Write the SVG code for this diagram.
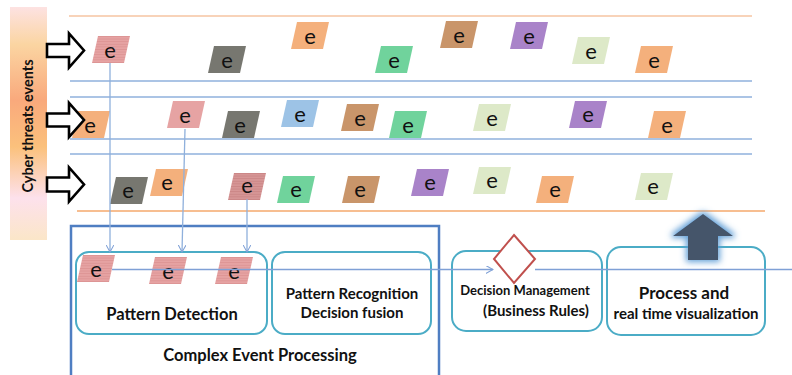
<svg xmlns="http://www.w3.org/2000/svg" width="792" height="375" viewBox="0 0 792 375">
  <style>
    .lane-o { stroke: #f6c4a2; stroke-width: 1.6; }
    .lane-o2 { stroke: #f4a96c; stroke-width: 1.4; }
    .lane-b { stroke: #8fb0dc; stroke-width: 1.6; }
    .ev-t { font-family: Lato, "Open Sans", "Liberation Sans", sans-serif; font-size: 22px; fill: #111; text-anchor: middle; }
    .lbl { font-family: Lato, "Open Sans", "Liberation Sans", sans-serif; font-weight: bold; fill: #111; text-anchor: middle; }
    .stage { fill: none; stroke: #4bacc6; stroke-width: 2; }
    .conn { stroke: #8fb0dc; stroke-width: 1.3; fill: none; }
    .blk { fill: #fff; stroke: #000; stroke-width: 2.6; stroke-linejoin: miter; }
  </style>
  <defs>
    <path id="ev" d="M6,0 H38 L32,27 H0 Z"/>
    <pattern id="stripe" width="4" height="2.6" patternUnits="userSpaceOnUse">
      <rect width="4" height="2.6" fill="#e6a3a3"/>
      <line x1="0" y1="0.5" x2="4" y2="0.5" stroke="#d78e8e" stroke-width="0.7"/>
    </pattern>
    <pattern id="stripe-dk" width="4" height="2.6" patternUnits="userSpaceOnUse">
      <rect width="4" height="2.6" fill="#d69696"/>
      <line x1="0" y1="0.5" x2="4" y2="0.5" stroke="#c47f7f" stroke-width="0.7"/>
    </pattern>
    <linearGradient id="barGrad" x1="0" y1="0" x2="0" y2="1">
      <stop offset="0" stop-color="#fde2e2"/>
      <stop offset="0.16" stop-color="#fbd5a2"/>
      <stop offset="0.4" stop-color="#f9a97c"/>
      <stop offset="0.6" stop-color="#fbc17c"/>
      <stop offset="0.82" stop-color="#fde1ec"/>
      <stop offset="1" stop-color="#fbe6c8"/>
    </linearGradient>
    <marker id="vee" viewBox="0 0 10 10" refX="9" refY="5" markerWidth="8" markerHeight="8" markerUnits="userSpaceOnUse" orient="auto">
      <path d="M0,0 L9,5 L0,10" fill="none" stroke="#7fa0d6" stroke-width="1.3"/>
    </marker>
    <filter id="glow" x="-60%" y="-60%" width="220%" height="220%">
      <feMorphology in="SourceAlpha" operator="dilate" radius="2" result="d"/>
      <feGaussianBlur in="d" stdDeviation="3" result="b"/>
      <feFlood flood-color="#5b9bd5" flood-opacity="0.95"/>
      <feComposite in2="b" operator="in" result="g"/>
      <feMerge><feMergeNode in="g"/><feMergeNode in="SourceGraphic"/></feMerge>
    </filter>
  </defs>

  <!-- side label bar -->
  <g id="source-bar">
    <rect x="10" y="7" width="37" height="233" fill="url(#barGrad)"/>
    <text class="lbl" font-size="14.5" transform="translate(33,126) rotate(-90)">Cyber threats events</text>
  </g>

  <!-- lane separators -->
  <g id="lanes">
    <line class="lane-o" x1="69" y1="16" x2="752" y2="16"/>
    <line class="lane-b" x1="70" y1="81" x2="752" y2="81"/>
    <line class="lane-b" x1="70" y1="97" x2="752" y2="97"/>
    <line class="lane-b" x1="70" y1="139" x2="752" y2="139"/>
    <line class="lane-b" x1="70" y1="154" x2="752" y2="154"/>
    <line class="lane-o2" x1="77" y1="211" x2="765" y2="211"/>
  </g>

  <!-- stream 1 events -->
  <g id="s1-e1" transform="translate(92,36)"><use href="#ev" fill="url(#stripe)"/><text class="ev-t" x="18" y="21.5">e</text></g>
  <g id="s1-e2" transform="translate(208,46)"><use href="#ev" fill="#777770"/><text class="ev-t" x="19" y="21.5">e</text></g>
  <g id="s1-e3" transform="translate(291,22)"><use href="#ev" fill="#f4b07c"/><text class="ev-t" x="19" y="21.5">e</text></g>
  <g id="s1-e4" transform="translate(375,46)"><use href="#ev" fill="#70d39c"/><text class="ev-t" x="19" y="21.5">e</text></g>
  <g id="s1-e5" transform="translate(440,21)"><use href="#ev" fill="#c9956a"/><text class="ev-t" x="19" y="21.5">e</text></g>
  <g id="s1-e6" transform="translate(510,22)"><use href="#ev" fill="#a983c9"/><text class="ev-t" x="19" y="21.5">e</text></g>
  <g id="s1-e7" transform="translate(572,37)"><use href="#ev" fill="#dde9c8"/><text class="ev-t" x="19" y="21.5">e</text></g>
  <g id="s1-e8" transform="translate(635,46)"><use href="#ev" fill="#f4b07c"/><text class="ev-t" x="19" y="21.5">e</text></g>

  <!-- stream 2 events -->
  <g id="s2-e1" transform="translate(72,111)"><use href="#ev" fill="#f4b07c"/><text class="ev-t" x="18" y="21.5">e</text></g>
  <g id="s2-e2" transform="translate(167,101)"><use href="#ev" fill="#e6a3a3"/><text class="ev-t" x="18" y="21.5">e</text></g>
  <g id="s2-e3" transform="translate(222,111)"><use href="#ev" fill="#777770"/><text class="ev-t" x="18" y="21.5">e</text></g>
  <g id="s2-e4" transform="translate(281,100)"><use href="#ev" fill="#9dc3e6"/><text class="ev-t" x="19" y="21.5">e</text></g>
  <g id="s2-e5" transform="translate(341,104)"><use href="#ev" fill="#c9956a"/><text class="ev-t" x="19" y="21.5">e</text></g>
  <g id="s2-e6" transform="translate(389,111)"><use href="#ev" fill="#70d39c"/><text class="ev-t" x="19" y="21.5">e</text></g>
  <g id="s2-e7" transform="translate(473,104)"><use href="#ev" fill="#dde9c8"/><text class="ev-t" x="19" y="21.5">e</text></g>
  <g id="s2-e8" transform="translate(569,101)"><use href="#ev" fill="#a983c9"/><text class="ev-t" x="19" y="21">e</text></g>
  <g id="s2-e9" transform="translate(648,111)"><use href="#ev" fill="#f4b07c"/><text class="ev-t" x="19" y="21.5">e</text></g>

  <!-- stream 3 events -->
  <g id="s3-e1" transform="translate(110,177)"><use href="#ev" fill="#777770"/><text class="ev-t" x="18" y="21">e</text></g>
  <g id="s3-e2" transform="translate(150,169)"><use href="#ev" fill="#f4b07c"/><text class="ev-t" x="17" y="21">e</text></g>
  <g id="s3-e3" transform="translate(228,173)"><use href="#ev" fill="url(#stripe-dk)"/><text class="ev-t" x="19" y="20">e</text></g>
  <g id="s3-e4" transform="translate(277,176)"><use href="#ev" fill="#70d39c"/><text class="ev-t" x="19" y="21">e</text></g>
  <g id="s3-e5" transform="translate(342,176)"><use href="#ev" fill="#c9956a"/><text class="ev-t" x="18" y="21">e</text></g>
  <g id="s3-e6" transform="translate(411,169)"><use href="#ev" fill="#a983c9"/><text class="ev-t" x="19" y="21">e</text></g>
  <g id="s3-e7" transform="translate(473,167)"><use href="#ev" fill="#dde9c8"/><text class="ev-t" x="19" y="21">e</text></g>
  <g id="s3-e8" transform="translate(536,176)"><use href="#ev" fill="#f4b07c"/><text class="ev-t" x="19" y="21">e</text></g>
  <g id="s3-e9" transform="translate(635,173)"><use href="#ev" fill="#dde9c8"/><text class="ev-t" x="18" y="21">e</text></g>

  <!-- complex event processing container -->
  <g id="cep">
    <rect x="71" y="226" width="368" height="160" fill="none" stroke="#4f7ec2" stroke-width="2.5"/>
    <text class="lbl" font-size="16.5" x="260" y="361">Complex Event Processing</text>
  </g>

  <g id="pattern-detection">
    <rect class="stage" x="76" y="252" width="191" height="82" rx="13"/>
    <g transform="translate(77,255)"><use href="#ev" fill="url(#stripe)"/><text class="ev-t" x="19" y="22">e</text></g>
    <g transform="translate(149,257)"><use href="#ev" fill="url(#stripe)"/><text class="ev-t" x="19" y="21.5">e</text></g>
    <g transform="translate(215,257)"><use href="#ev" fill="url(#stripe)"/><text class="ev-t" x="19" y="21.5">e</text></g>
    <text class="lbl" font-size="16.5" x="172" y="320">Pattern Detection</text>
  </g>

  <g id="pattern-recognition">
    <rect class="stage" x="272" y="252" width="159" height="82" rx="13"/>
    <text class="lbl" font-size="15" x="352" y="299">Pattern Recognition</text>
    <text class="lbl" font-size="15" x="352" y="318">Decision fusion</text>
  </g>

  <g id="decision-management">
    <rect class="stage" x="452" y="251" width="150" height="80" rx="14"/>
    <text class="lbl" font-size="13" x="525" y="294.5">Decision Management</text>
    <text class="lbl" font-size="15" x="536" y="315.5">(Business Rules)</text>
  </g>

  <g id="process-visualization">
    <rect class="stage" x="607" y="247" width="158" height="88" rx="14"/>
    <text class="lbl" font-size="17" x="684" y="298.5">Process and</text>
    <text class="lbl" font-size="15" x="686" y="318.5">real time visualization</text>
  </g>

  <!-- connectors -->
  <g id="connectors">
    <line class="conn" x1="110" y1="63" x2="110" y2="252" marker-end="url(#vee)"/>
    <line class="conn" x1="185" y1="129" x2="182" y2="252" marker-end="url(#vee)"/>
    <line class="conn" x1="247" y1="199" x2="247" y2="252" marker-end="url(#vee)"/>
    <line x1="112" y1="269.5" x2="493" y2="269.5" stroke="#7fa0d6" stroke-width="1.4" marker-end="url(#vee)"/>
    <line x1="535" y1="269.5" x2="792" y2="269.5" stroke="#7fa0d6" stroke-width="1.4"/>
  </g>

  <!-- decision gateway -->
  <g id="gateway">
    <polygon points="514,235 535,259 514,283 494,259" fill="#fff" stroke="#c0504d" stroke-width="2"/>
  </g>

  <!-- output arrow -->
  <g id="output-arrow">
    <polygon points="703,214 733,236 718,236 718,260 688,260 688,236 673,236" fill="#44546a" filter="url(#glow)"/>
  </g>

  <!-- input stream arrows -->
  <g id="inputs">
    <path class="blk" d="M47,44 H69 V33.5 L84,50.5 L69,67.5 V57 H47 Z"/>
    <path class="blk" d="M47,113.5 H69 V103 L84,120 L69,137 V126.5 H47 Z"/>
    <path class="blk" d="M47,177.5 H69 V167.5 L84,184.5 L69,201.5 V191.5 H47 Z"/>
  </g>
</svg>
